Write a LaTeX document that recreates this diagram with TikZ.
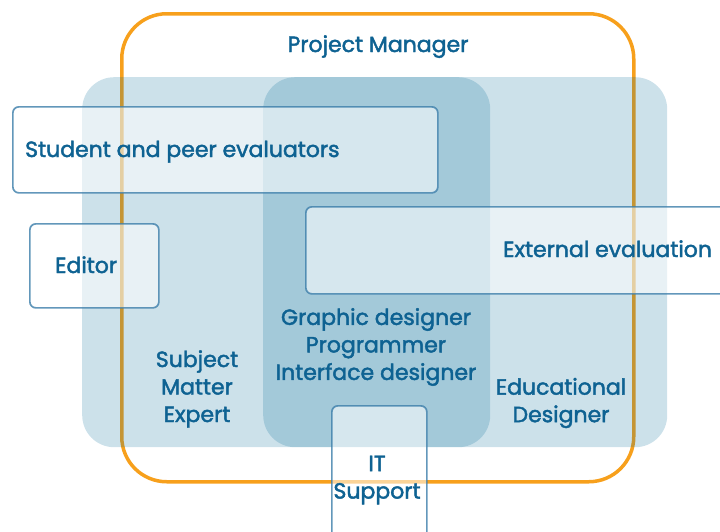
\documentclass[tikz,border=0pt]{standalone}
\usepackage{fontspec}
\setmainfont{Poppins}[FakeBold=2]
\usetikzlibrary{positioning}
\definecolor{pmorange}{RGB}{247,160,28}
\definecolor{roleblue}{RGB}{0,105,150}
\definecolor{roletext}{RGB}{14,98,146}
\definecolor{boxline}{RGB}{60,126,170}

\begin{document}
\begin{tikzpicture}[
            x=1pt, y=-1pt,
            frame/.style={rectangle, draw=pmorange, line width=3.5pt, rounded corners=45pt, inner sep=0pt, anchor=north west},
            region/.style={rectangle, fill=roleblue, fill opacity=0.2, rounded corners=32pt, inner sep=0pt, anchor=north west},
            rolebox/.style={rectangle, draw=boxline, draw opacity=0.8, line width=1.7pt, fill=white, fill opacity=0.55, rounded corners=6pt, inner sep=0pt, anchor=north west},
            role/.style={text=roletext, font=\fontsize{22}{27.5}\selectfont, align=center, inner sep=0pt}
        ]
        \useasboundingbox (0,0) rectangle (720,531);

        % project manager frame
        \node[frame, minimum width=512pt, minimum height=468pt] (pm) at (120,12) {};

        % overlapping team regions
        \node[region, minimum width=408pt, minimum height=370pt] (sme) at (82,77) {};
        \node[region, minimum width=404pt, minimum height=370pt] (edu) at (263,77) {};

        % outside roles
        \node[rolebox, minimum width=425pt, minimum height=86pt] (peerbox) at (12,106) {};
        \node[rolebox, minimum width=129pt, minimum height=84pt] (editorbox) at (29,223) {};
        \node[rolebox, minimum width=440pt, minimum height=87pt] (extbox) at (305,206) {};
        \node[rolebox, minimum width=95pt, minimum height=150pt] (itbox) at (331,405) {};

        % labels
        \node[role, anchor=base] (pmlabel) at (378,52) {Project Manager};
        \node[role, anchor=base west] (peer) at (25,157) {Student and peer evaluators};
        \node[role, anchor=base west] (editor) at (55,273) {Editor};
        \node[role, anchor=base west] (ext) at (503,257) {External evaluation};
        \node[role] (media) at (376,347) {Graphic designer\\Programmer\\Interface designer};
        \node[role] (expert) at (197,389) {Subject\\Matter\\Expert};
        \node[role] (designer) at (561,403) {Educational\\Designer};
        \node[role] (it) at (377,480) {IT\\Support};
        \end{tikzpicture}
\end{document}
